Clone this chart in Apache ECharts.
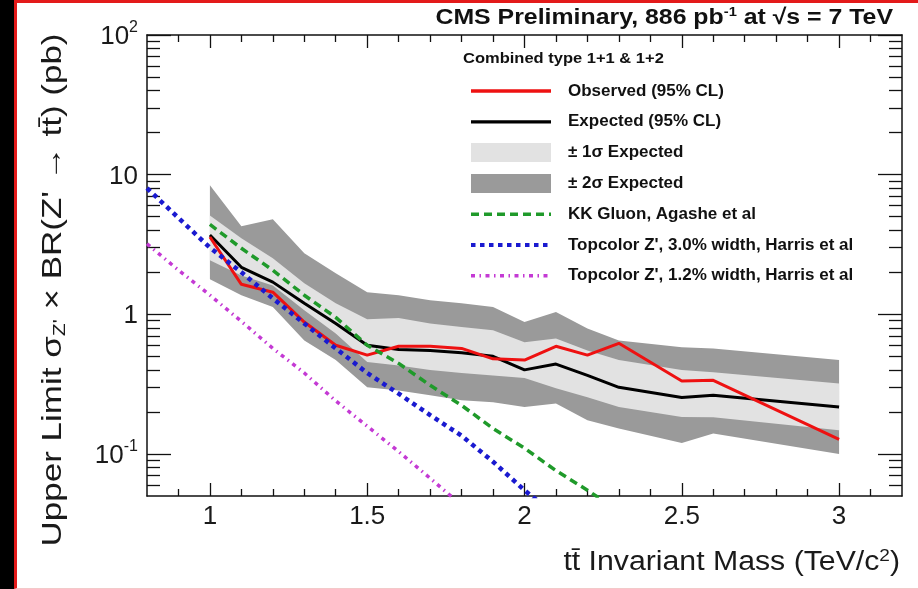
<!DOCTYPE html>
<html>
<head>
<meta charset="utf-8">
<script src="https://cdn.jsdelivr.net/npm/echarts@6/dist/echarts.min.js"></script>
<style>
  html, body { margin: 0; padding: 0; background: #000; width: 918px; height: 589px; overflow: hidden; }
  #frame { position: absolute; left: 14px; top: 0; width: 904px; height: 589px; background: #fff;
           box-sizing: border-box; border-top: 3px solid #e31a1a; border-left: 3px solid #e31a1a;
           border-bottom: 1px solid #f3c9c9; }
  #chart { position: absolute; left: 0; top: 0; width: 918px; height: 589px; }
</style>
</head>
<body>
<div id="frame"></div>
<div id="chart"></div>
<script>
// Z' -> ttbar upper limits, combined type 1+1 & 1+2 (886 pb^-1, 7 TeV)
const massPoints = [1.0, 1.1, 1.2, 1.3, 1.4, 1.5, 1.6, 1.7, 1.8, 1.9, 2.0, 2.1, 2.2, 2.3, 2.5, 2.6, 3.0];
const observed   = [3.58, 1.64, 1.44, 0.88, 0.60, 0.51, 0.59, 0.59, 0.57, 0.48, 0.47, 0.59, 0.51, 0.62, 0.333, 0.337, 0.127];
const expected   = [3.7, 2.17, 1.70, 1.20, 0.86, 0.60, 0.56, 0.55, 0.53, 0.50, 0.40, 0.44, 0.365, 0.30, 0.254, 0.263, 0.217];
const plus1Sigma  = [5.1, 3.5, 2.52, 1.67, 1.2, 0.92, 0.94, 0.86, 0.81, 0.77, 0.63, 0.67, 0.55, 0.47, 0.40, 0.385, 0.32];
const minus1Sigma = [2.44, 1.9, 1.61, 1.07, 0.73, 0.455, 0.43, 0.40, 0.38, 0.365, 0.35, 0.295, 0.255, 0.217, 0.184, 0.183, 0.148];
const plus2Sigma  = [8.4, 4.27, 4.8, 2.74, 1.97, 1.44, 1.37, 1.26, 1.2, 1.13, 0.88, 1.04, 0.79, 0.65, 0.58, 0.57, 0.47];
const minus2Sigma = [1.78, 1.37, 1.13, 0.65, 0.47, 0.30, 0.285, 0.263, 0.242, 0.235, 0.217, 0.23, 0.174, 0.152, 0.12, 0.14, 0.10];

// theory cross sections
const kkMass      = [1.0, 1.1, 1.2, 1.3, 1.4, 1.5, 1.6, 1.7, 1.8, 1.9, 2.0, 2.1, 2.2, 2.3];
const kkGluon     = [4.4, 2.97, 2.07, 1.37, 0.95, 0.60, 0.445, 0.31, 0.223, 0.152, 0.11, 0.076, 0.055, 0.039];
const tc30Mass    = [0.8, 0.9, 1.0, 1.1, 1.2, 1.3, 1.4, 1.5, 1.6, 1.7, 1.8, 1.9, 2.0, 2.1];
const topcolor30  = [8.0, 4.9, 3.0, 2.0, 1.3, 0.86, 0.57, 0.38, 0.27, 0.19, 0.135, 0.088, 0.055, 0.036];
const tc12Mass    = [0.8, 0.9, 1.0, 1.1, 1.2, 1.3, 1.4, 1.5, 1.6, 1.7, 1.8];
const topcolor12  = [3.2, 2.07, 1.37, 0.89, 0.57, 0.38, 0.24, 0.158, 0.104, 0.067, 0.043];

// axis ticks
const xMajor = [1, 1.5, 2, 2.5, 3];
const xMinor = [0.9, 1.1, 1.2, 1.3, 1.4, 1.6, 1.7, 1.8, 1.9, 2.1, 2.2, 2.3, 2.4, 2.6, 2.7, 2.8, 2.9, 3.1];
const yMajor = [0.1, 1, 10, 100];
const yMinor = [0.06, 0.07, 0.08, 0.09, 0.2, 0.3, 0.4, 0.5, 0.6, 0.7, 0.8, 0.9,
                2, 3, 4, 5, 6, 7, 8, 9, 20, 30, 40, 50, 60, 70, 80, 90];

const FONT = '"Liberation Sans", Arial, Helvetica, sans-serif';
const chart = echarts.init(document.getElementById('chart'), null, { renderer: 'canvas' });

const gridBox = { left: 147, top: 35, width: 755, height: 461 };
const lineBlack = { show: true, lineStyle: { color: '#111', width: 1.5 } };

function xAxisDef(grid, pos, ticks, len, labels) {
  return {
    type: 'value', gridIndex: grid, position: pos, min: 0.8, max: 3.2,
    axisLine: grid === 0 ? lineBlack : { show: false },
    axisTick: { show: true, inside: true, length: len, customValues: ticks, lineStyle: { color: '#111', width: 1.3 } },
    axisLabel: labels ? { show: true, customValues: xMajor, margin: 8, fontSize: 26, fontFamily: FONT, color: '#1a1a1a',
                          formatter: v => String(v) } : { show: false },
    splitLine: { show: false }
  };
}
function yAxisDef(grid, pos, ticks, len, labels) {
  return {
    type: 'log', logBase: 10, gridIndex: grid, position: pos, min: 0.05, max: 100,
    axisLine: grid === 0 ? lineBlack : { show: false },
    axisTick: { show: true, inside: true, length: len, customValues: ticks, lineStyle: { color: '#111', width: 1.3 } },
    axisLabel: labels ? {
      show: true, customValues: yMajor, margin: 9, fontFamily: FONT, color: '#1a1a1a',
      formatter: v => {
        if (v >= 99) return '{m|10}{s|2}';
        if (v >= 9) return '{m|10}';
        if (v >= 0.9) return '{m|1}';
        return '{m|10}{s|-1}';
      },
      rich: {
        m: { fontSize: 26, fontFamily: FONT, color: '#1a1a1a', lineHeight: 30, verticalAlign: 'bottom' },
        s: { fontSize: 16, fontFamily: FONT, color: '#1a1a1a', lineHeight: 30, verticalAlign: 'top' }
      }
    } : { show: false },
    splitLine: { show: false }
  };
}

function rows(xs, ys) { return xs.map((x, i) => [x, ys[i]]); }

function bandSeries(name, lo, hi, color) {
  return {
    name: name, type: 'custom', xAxisIndex: 0, yAxisIndex: 0, silent: true,
    itemStyle: { color: color },
    data: massPoints.map((m, i) => [m, lo[i], hi[i]]),
    encode: { x: 0, y: [1, 2] },
    renderItem: (params, api) => {
      if (params.dataIndex !== 0) return null;
      const pts = [];
      for (let i = 0; i < massPoints.length; i++) pts.push(api.coord([massPoints[i], hi[i]]));
      for (let i = massPoints.length - 1; i >= 0; i--) pts.push(api.coord([massPoints[i], lo[i]]));
      return { type: 'polygon', shape: { points: pts }, style: { fill: color, stroke: null } };
    }
  };
}

function lineSeries(name, xs, ys, color, width, dash, z) {
  return {
    name: name, type: 'line', xAxisIndex: 0, yAxisIndex: 0, symbol: 'none', showSymbol: false,
    clip: true, z: z, silent: true,
    data: rows(xs, ys),
    itemStyle: { color: color },
    lineStyle: { color: color, width: width, type: dash, cap: 'butt' }
  };
}

const legendText = { fontSize: 17, lineHeight: 19, fontWeight: 'bold', fontFamily: FONT, color: '#111', padding: [0, 0, 0, 12] };
const noMarker = { opacity: 0 };

chart.setOption({
  animation: false,
  backgroundColor: 'transparent',
  grid: [ Object.assign({}, gridBox), Object.assign({}, gridBox) ],
  xAxis: [
    xAxisDef(0, 'bottom', xMajor, 13, true),
    xAxisDef(0, 'top', xMajor, 13, false),
    xAxisDef(1, 'bottom', xMinor, 7, false),
    xAxisDef(1, 'top', xMinor, 7, false)
  ],
  yAxis: [
    yAxisDef(0, 'left', yMajor, 24, true),
    yAxisDef(0, 'right', yMajor, 24, false),
    yAxisDef(1, 'left', yMinor, 13, false),
    yAxisDef(1, 'right', yMinor, 13, false)
  ],
  legend: {
    orient: 'vertical', left: 469, top: 81.5, padding: 0, itemWidth: 80, itemHeight: 19, itemGap: 11.8,
    selectedMode: false, textStyle: legendText,
    data: [
      { name: 'Observed (95% CL)', itemStyle: noMarker, lineStyle: { width: 3.3 } },
      { name: 'Expected (95% CL)', itemStyle: noMarker, lineStyle: { width: 3.3 } },
      { name: '± 1σ Expected', icon: 'rect', itemStyle: { color: '#e2e2e2' } },
      { name: '± 2σ Expected', icon: 'rect', itemStyle: { color: '#9a9a9a' } },
      { name: 'KK Gluon, Agashe et al', itemStyle: noMarker, lineStyle: { width: 3.5 } },
      { name: "Topcolor Z', 3.0% width, Harris et al", itemStyle: noMarker, lineStyle: { width: 4 } },
      { name: "Topcolor Z', 1.2% width, Harris et al", itemStyle: noMarker, lineStyle: { width: 3.5 } }
    ]
  },
  graphic: [
    { type: 'text', x: 893, y: 18, scaleX: 1.13, z: 10,
      style: { text: 'CMS Preliminary, 886 pb{sup|-1} at √s = 7 TeV', align: 'right', verticalAlign: 'middle',
               font: 'bold 22px ' + FONT, fill: '#111',
               rich: { sup: { font: 'bold 13px ' + FONT, fill: '#111', verticalAlign: 'top', lineHeight: 24 } } } },
    { type: 'text', x: 463, y: 59, scaleX: 1.1, z: 10,
      style: { text: 'Combined type 1+1 & 1+2', align: 'left', verticalAlign: 'middle', font: 'bold 15px ' + FONT, fill: '#111' } },
    { type: 'text', x: 900, y: 563, scaleX: 1.12, z: 10,
      style: { text: 'tt̄ Invariant Mass (TeV/c{sup|2})', align: 'right', verticalAlign: 'middle',
               font: '27px ' + FONT, fill: '#1a1a1a',
               rich: { sup: { font: '17px ' + FONT, fill: '#1a1a1a', verticalAlign: 'top', lineHeight: 31 } } } },
    { type: 'text', x: 53, y: 290, rotation: Math.PI / 2, scaleX: 1.25, z: 10,
      style: { text: "Upper Limit σ{sub|Z'} × BR(Z' → tt̄) (pb)", align: 'center', verticalAlign: 'middle',
               font: '28px ' + FONT, fill: '#1a1a1a',
               rich: { sub: { font: '17px ' + FONT, fill: '#1a1a1a', verticalAlign: 'bottom', lineHeight: 32 } } } }
  ],
  series: [
    bandSeries('± 2σ Expected', minus2Sigma, plus2Sigma, '#9a9a9a'),
    bandSeries('± 1σ Expected', minus1Sigma, plus1Sigma, '#e2e2e2'),
    lineSeries('Expected (95% CL)', massPoints, expected, '#000000', 3, 'solid', 3),
    lineSeries('Observed (95% CL)', massPoints, observed, '#ee1111', 3, 'solid', 4),
    lineSeries('KK Gluon, Agashe et al', kkMass, kkGluon, '#1f9a2a', 3.5, [8, 5], 5),
    lineSeries("Topcolor Z', 3.0% width, Harris et al", tc30Mass, topcolor30, '#1a1ad0', 4.5, [4.5, 4.5], 5),
    lineSeries("Topcolor Z', 1.2% width, Harris et al", tc12Mass, topcolor12, '#c43ad4', 3.5, [4, 4.5, 1.5, 4.5], 5)
  ]
});
</script>
</body>
</html>
